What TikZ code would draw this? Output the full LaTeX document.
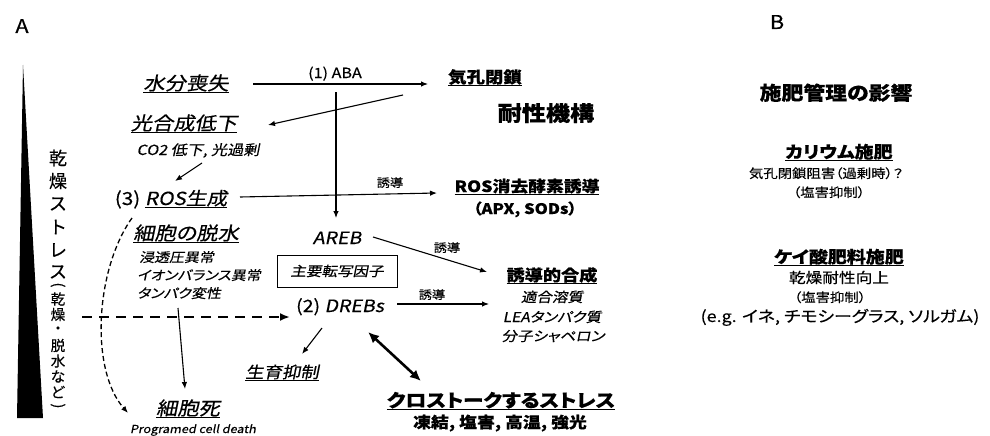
\documentclass[tikz,border=0pt]{standalone}
\usepackage{fontspec}
\usepackage{graphicx}
\setmainfont{Noto Sans CJK JP}[FakeStretch=1.15, AutoFakeSlant=0.2, FakeBold=0.4, RawFeature={+palt}]
\newfontfamily\jpv{Noto Sans CJK JP}[FakeBold=0.4]
\usetikzlibrary{arrows.meta}
\newcommand{\fsz}[1]{\fontsize{#1}{#1}\selectfont}
\newsavebox\ulbox
\newcommand{\uln}[1]{\sbox\ulbox{#1}\rlap{\rule[-3.2pt]{\wd\ulbox}{0.8pt}}\usebox\ulbox}
\tikzset{
  t/.style={inner sep=0pt, anchor=base, text=black},
  vt/.style={inner sep=0pt, anchor=center, font=\jpv\fontsize{18}{18}\selectfont},
  vb/.style={inner sep=0pt, anchor=center, font=\jpv\fontsize{14.5}{14.5}\selectfont},
  arr/.style={-{Latex[length=7pt,width=5.5pt]}, line width=1.1pt},
  thickdash/.style={-{Latex[length=10pt,width=8pt]}, line width=2.4pt, dash pattern=on 10pt off 7pt},
  curvedash/.style={-{Latex[length=7pt,width=5.5pt]}, line width=1.3pt, dash pattern=on 5pt off 3pt},
  dbl/.style={{Latex[length=11pt,width=10pt]}-{Latex[length=11pt,width=10pt]}, line width=2.6pt},
  boxed/.style={draw, line width=1pt, minimum width=120pt, minimum height=32pt, inner sep=0pt}
}
\begin{document}
\begin{tikzpicture}[x=1pt,y=-1pt]
\fill[white] (0,0) rectangle (990,436);
\useasboundingbox (0,0) rectangle (990,436);

% panel labels
\node[t] (lblA) at (22,33) {\fsz{19}A};
\node[t] (lblB) at (777,29) {\fsz{19}B};

% wedge
\fill[black] (23,65) -- (43,418) -- (17,418) -- cycle;

% vertical text
\foreach \c/\y [count=\i] in {乾/158,燥/181,ス/204,ト/227,レ/250,ス/272}
  \node[vt] (vt\i) at (58,\y) {\c};
\node[vb, rotate=-90] (vp1) at (58,285) {(};
\foreach \c/\y [count=\i] in {乾/299,燥/314.5,・/330,脱/345.5,水/361,な/376.5,ど/392}
  \node[vb] (vb\i) at (58,\y) {\c};
\node[vb, rotate=-90] (vp2) at (58,406) {)};

% left column
\node[t] (suibun) at (186,90) {\fsz{18.5}\itshape\uln{水分喪失}};
\node[t] (kogo) at (184,130) {\fsz{18.5}\itshape\uln{光合成低下}};
\node[t] (co2) at (198,155) {\fsz{14}\itshape CO2 低下, 光過剰};
\node[t] (ros) at (171,205) {\fsz{18}(3) \uln{\itshape ROS生成}};
\node[t] (saibo) at (186,240) {\fsz{18.5}\itshape\uln{細胞の脱水}};
\node[t, anchor=base west] (l1) at (139,262) {\fsz{13}\itshape 浸透圧異常};
\node[t, anchor=base west] (l2) at (137,280) {\fsz{13}\itshape イオンバランス異常};
\node[t, anchor=base west] (l3) at (137,298) {\fsz{13}\itshape タンパク変性};
\node[t] (shi) at (188,415) {\fsz{18.5}\itshape\uln{細胞死}};
\node[t] (prog) at (193,433) {\fsz{11}\itshape Programed cell death};

% middle
\node[t] (aba) at (335,78) {\fsz{14}(1) ABA};
\node[t] (kikou) at (485,83) {\fsz{16}\bfseries\uln{気孔閉鎖}};
\node[t] (taisei) at (546,121) {\fsz{21}\bfseries 耐性機構};
\node[t] (yudo1) at (390,187) {\fsz{11.5}誘導};
\node[t] (rosk) at (527,192) {\fsz{15.5}\bfseries\uln{ROS消去酵素誘導}};
\node[t] (apx) at (525,214) {\fsz{14.5}\bfseries （APX, SODs）};
\node[t] (areb) at (337,244) {\fsz{17}\itshape AREB};
\node[boxed] (shuyo) at (337,271) {\fsz{13.5}\itshape 主要転写因子};
\node[t] (dreb) at (340,312) {\fsz{17}(2) {\itshape DREBs}};
\node[t] (yudo2) at (447,252) {\fsz{11.5}誘導};
\node[t] (yudo3) at (432,299) {\fsz{11.5}誘導};
\node[t] (yudogo) at (552,281) {\fsz{15.8}\bfseries\uln{誘導的合成}};
\node[t] (tekigo) at (552,302) {\fsz{13.5}\itshape 適合溶質};
\node[t] (lea) at (552,322) {\fsz{13.5}\itshape LEAタンパク質};
\node[t] (bunshi) at (553,341) {\fsz{13.5}\itshape 分子シャペロン};
\node[t] (seiiku) at (282,378) {\fsz{16}\itshape\uln{生育抑制}};
\node[t] (cross) at (501,407) {\fsz{18}\bfseries\uln{クロストークするストレス}};
\node[t] (toketsu) at (500,428) {\fsz{15.5}\bfseries 凍結, 塩害, 高温, 強光};

% panel B
\node[t] (sehi) at (836,100) {\fsz{19}\bfseries 施肥管理の影響};
\node[t] (kari) at (839,158) {\fsz{16.5}\bfseries\uln{カリウム施肥}};
\node[t] (kari1) at (826,178) {\fsz{12.5}気孔閉鎖阻害（過剰時）？};
\node[t] (kari2) at (829,197) {\fsz{12.5}（塩害抑制）};
\node[t] (keisan) at (839,263) {\fsz{16.5}\bfseries\uln{ケイ酸肥料施肥}};
\node[t] (kei1) at (839,283) {\fsz{14.5}乾燥耐性向上};
\node[t] (kei2) at (830,302) {\fsz{12.5}（塩害抑制）};
\node[t] (eg) at (840,322) {\fsz{15.6}(e.g. イネ, チモシーグラス,  ソルガム)};

% connector end points
\coordinate (abaS) at (253,84);
\coordinate (abaE) at (428,84);
\coordinate (vS) at (336,92);
\coordinate (vE) at (336,218);
\coordinate (kS) at (403,95);
\coordinate (kE) at (268,125);
\coordinate (cS) at (202,163);
\coordinate (cE) at (175,181);
\coordinate (rS) at (240,197);
\coordinate (rE) at (437,193);
\coordinate (aS) at (373,237);
\coordinate (aE) at (487,272);
\coordinate (dS) at (397,304);
\coordinate (dE) at (489,304);
\coordinate (tdS) at (82,317);
\coordinate (tdE) at (290,317);
\coordinate (gS) at (322,328);
\coordinate (gE) at (302,354);
\coordinate (xS) at (368,332);
\coordinate (xE) at (421,381);
\coordinate (cdS) at (132,218);
\coordinate (cdE) at (128,413);
\coordinate (sS) at (178,308);
\coordinate (sE) at (185,389);

% connectors
\draw[arr] (abaS) -- (abaE);
\draw[arr] (vS) -- (vE);
\draw[arr] (kS) -- (kE);
\draw[arr] (cS) -- (cE);
\draw[arr] (rS) -- (rE);
\draw[arr] (aS) -- (aE);
\draw[arr] (dS) -- (dE);
\draw[thickdash] (tdS) -- (tdE);
\draw[arr] (gS) -- (gE);
\draw[dbl] (xS) -- (xE);
\draw[curvedash] (cdS) .. controls (95,270) and (90,370) .. (cdE);
\draw[arr] (sS) -- (sE);
\end{tikzpicture}
\end{document}
